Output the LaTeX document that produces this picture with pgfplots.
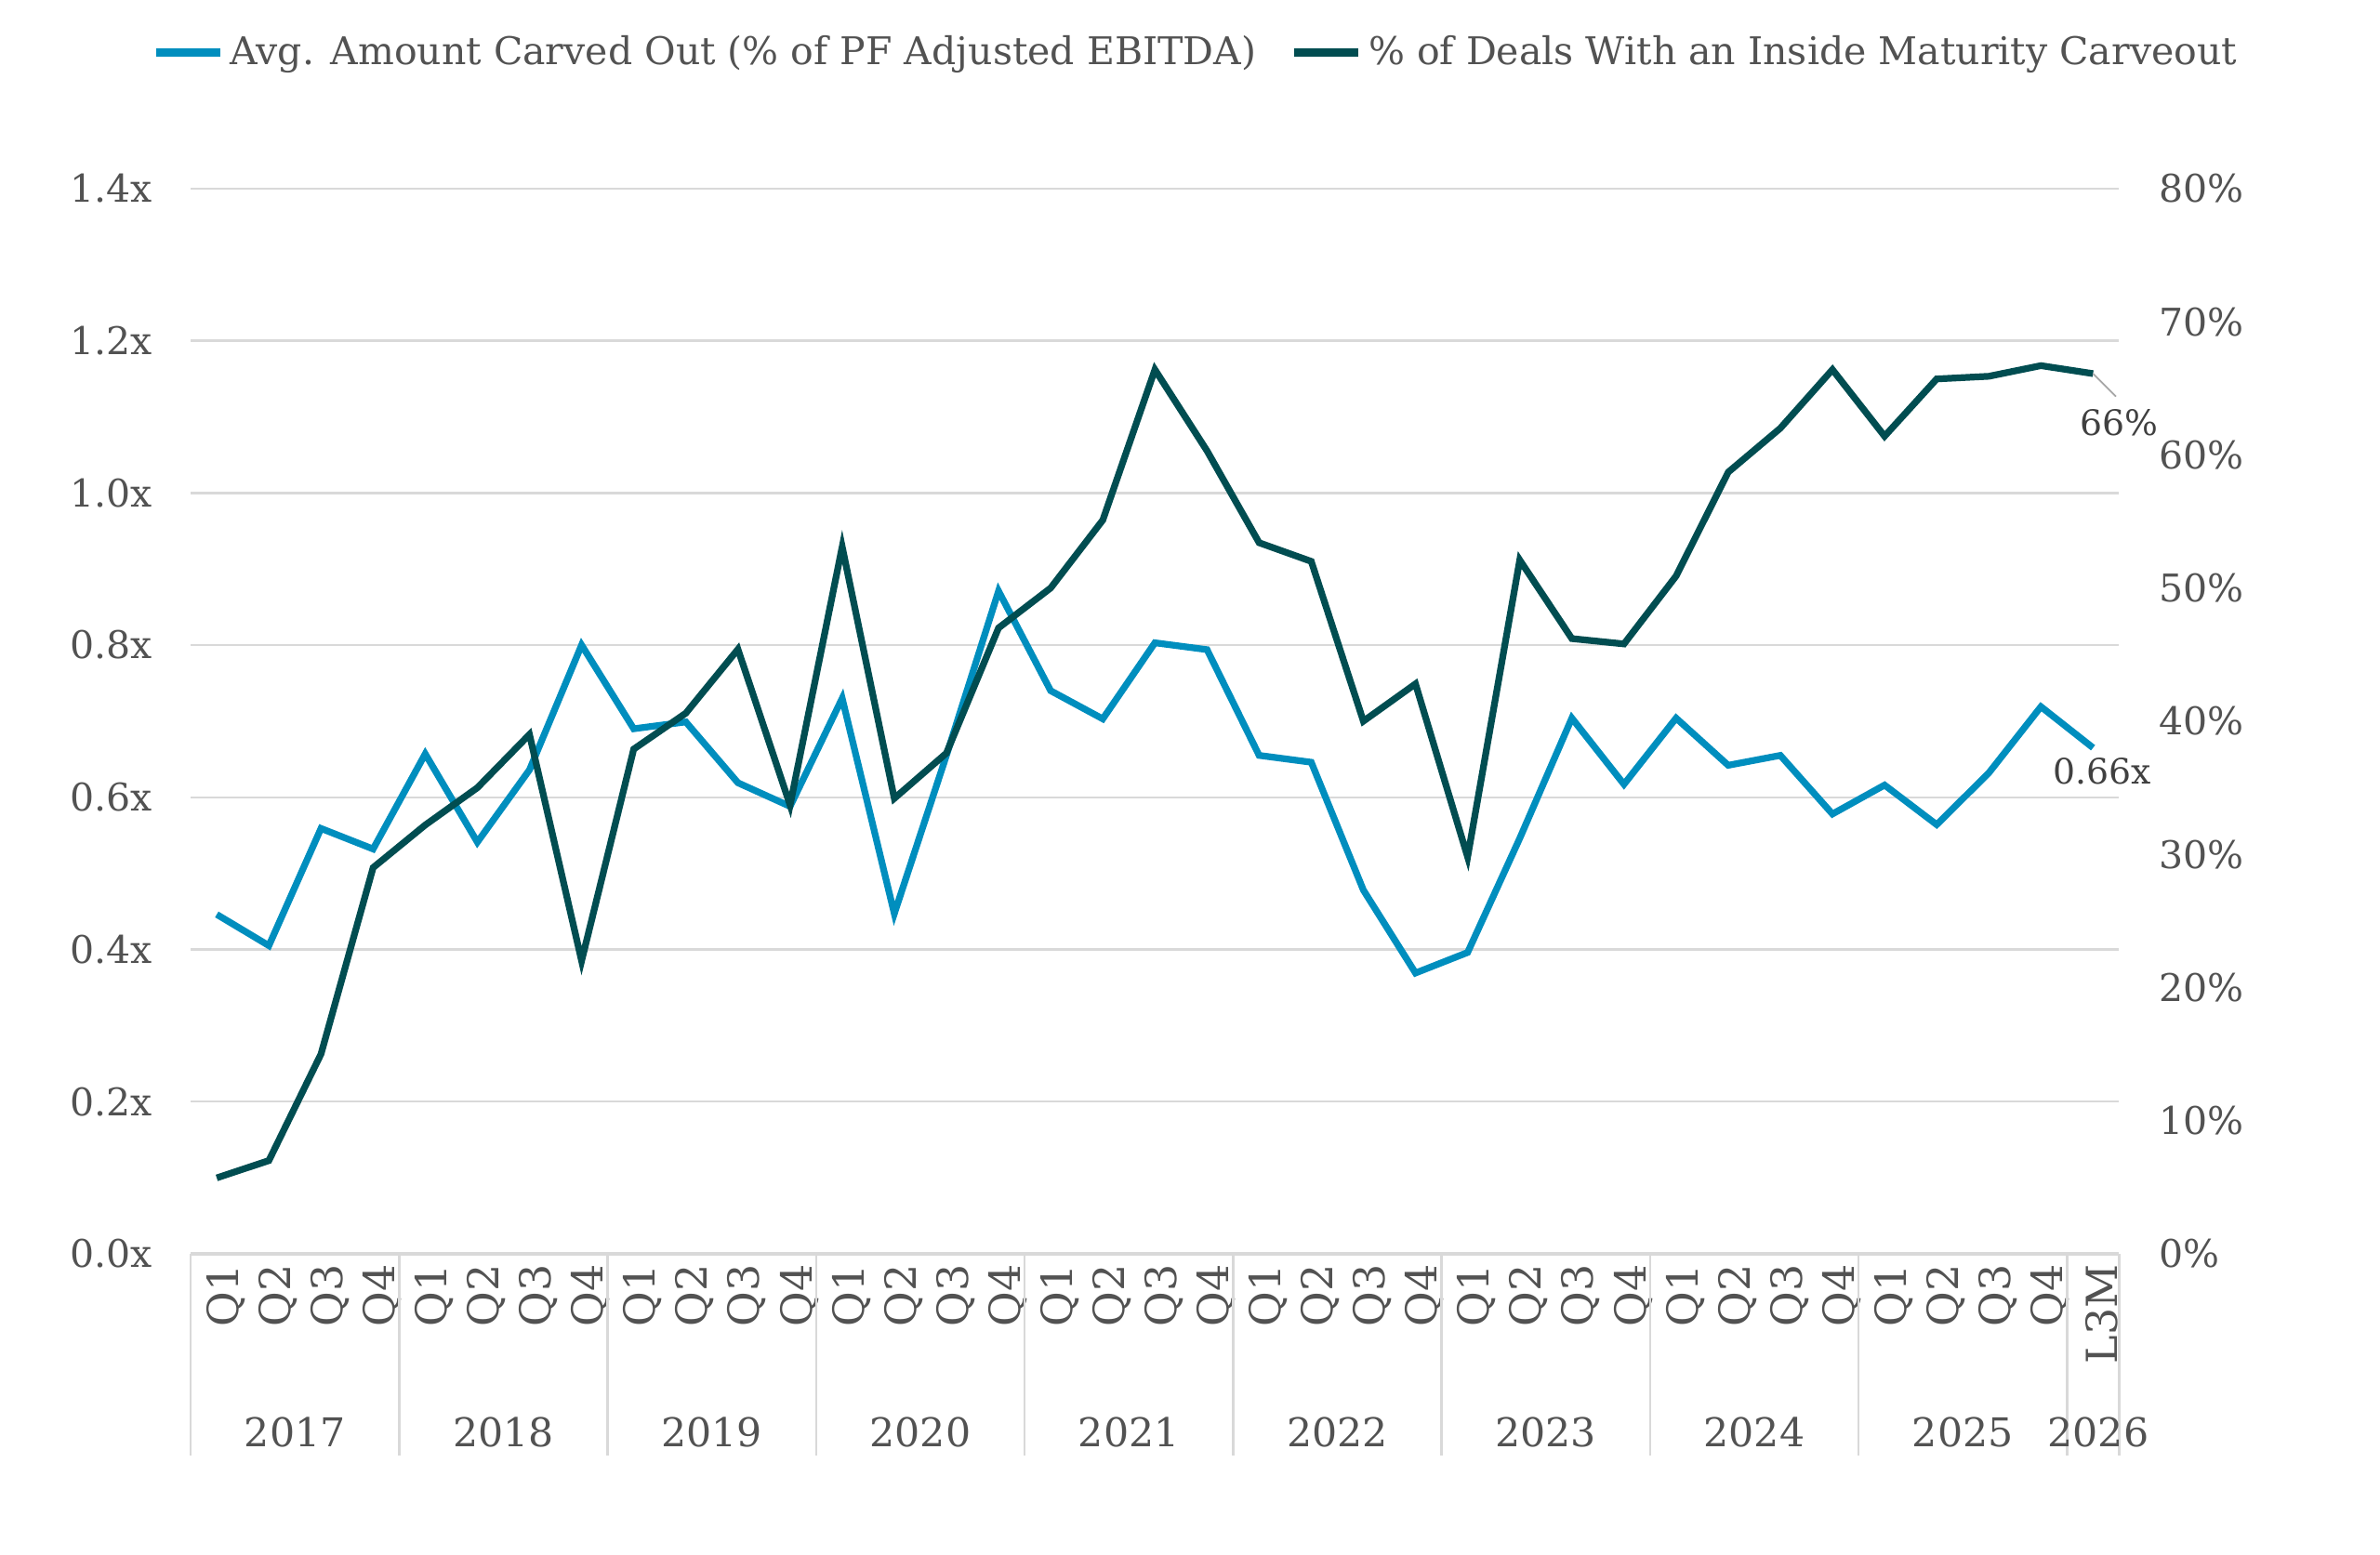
\documentclass[border=0pt]{standalone}
\usepackage{pgfplots}
\pgfplotsset{compat=1.18}
\usepackage{pgfplotstable}
\usepackage{fontspec}
\setmainfont{DejaVu Serif}

\definecolor{amtblue}{RGB}{0,142,190}
\definecolor{dealteal}{RGB}{1,77,81}
\definecolor{txt}{RGB}{82,82,82}
\definecolor{gridc}{RGB}{217,217,217}
\definecolor{lbl}{RGB}{64,64,64}

% x = quarter index (0 = 2017 Q1 ... 35 = 2025 Q4, 36 = L3M)
% amt = avg. amount carved out (x EBITDA), pct = % of deals with carveout
\pgfplotstableread{
x  amt    pct
0  0.446  5.7
1  0.405  7.0
2  0.559  15.0
3  0.532  29.0
4  0.657  32.2
5  0.541  35.0
6  0.636  39.0
7  0.800  22.0
8  0.690  37.9
9  0.699  40.6
10 0.619  45.4
11 0.588  33.7
12 0.730  53.1
13 0.447  34.2
14 0.655  37.6
15 0.871  47.0
16 0.740  50.0
17 0.703  55.1
18 0.803  66.4
19 0.794  60.3
20 0.655  53.4
21 0.646  52.0
22 0.478  40.0
23 0.369  42.8
24 0.396  29.8
25 0.546  52.1
26 0.704  46.2
27 0.617  45.8
28 0.704  50.9
29 0.642  58.7
30 0.655  62.0
31 0.578  66.4
32 0.616  61.4
33 0.564  65.7
34 0.632  65.9
35 0.719  66.7
36 0.665  66.1
}\carveout

\pgfplotsset{
  base/.style={
    at={(0pt,0pt)}, anchor=south west,
    width=632pt, height=349.2pt, scale only axis,
    xmin=-0.5, xmax=36.5,
    major tick length=0pt,
    clip=false,
    tick label style={font=\fontsize{12.5}{14}\selectfont, text=txt},
    /pgf/number format/assume math mode=true,
  },
}
\tikzset{yr/.style={text=txt, font=\fontsize{13}{15}\selectfont, yshift=-58.5pt}}

\begin{document}
\begin{tikzpicture}
\path[use as bounding box] (-62.5pt,-98.7pt) rectangle (717.5pt,411pt);

\begin{axis}[
  base,
  ymin=0, ymax=1.4,
  ytick={0,0.2,0.4,0.6,0.8,1.0,1.2,1.4},
  yticklabel={\pgfmathprintnumber[fixed,fixed zerofill,precision=1]{\tick}x},
  yticklabel style={xshift=-9pt},
  axis x line*=bottom, axis y line*=left,
  y axis line style={draw=none},
  x axis line style={draw=gridc, line width=1pt, -},
  ymajorgrids,
  major grid style={draw=gridc, line width=0.75pt},
  xtick={0,...,36},
  xticklabels={Q1,Q2,Q3,Q4,Q1,Q2,Q3,Q4,Q1,Q2,Q3,Q4,Q1,Q2,Q3,Q4,Q1,Q2,Q3,Q4,
    Q1,Q2,Q3,Q4,Q1,Q2,Q3,Q4,Q1,Q2,Q3,Q4,Q1,Q2,Q3,Q4,L3M},
  xticklabel style={rotate=90, anchor=east, yshift=-3pt,
    font=\fontsize{14}{16}\selectfont},
  extra x ticks={-0.5,3.5,7.5,11.5,15.5,19.5,23.5,27.5,31.5,35.5,36.5},
  extra x tick labels={},
  extra x tick style={major tick length=66pt, tick align=outside,
    tick style={draw=gridc, line width=0.75pt}, grid=none},
  legend style={at={(0.522,1.128)}, anchor=center, draw=none, fill=none,
    legend columns=2, font=\fontsize{12.5}{14}\selectfont, text=txt,
    /tikz/every even column/.append style={column sep=9pt}},
  legend image code/.code={\draw[#1, line width=2.8pt] (0pt,0pt) -- (21pt,0pt);},
]
\addplot[amtblue, line width=2.2pt] table[x=x, y=amt] {\carveout};
\addlegendentry{Avg. Amount Carved Out (\% of PF Adjusted EBITDA)}
\addlegendimage{dealteal, line width=2.2pt}
\addlegendentry{\% of Deals With an Inside Maturity Carveout}

\node[anchor=north, inner sep=0pt, text=lbl, font=\fontsize{11.5}{13}\selectfont]
  at (axis cs:36,0.665) [xshift=3pt, yshift=-3pt] {0.66x};

\node[yr] at (axis cs:1.5,0) {2017};
\node[yr] at (axis cs:5.5,0) {2018};
\node[yr] at (axis cs:9.5,0) {2019};
\node[yr] at (axis cs:13.5,0) {2020};
\node[yr] at (axis cs:17.5,0) {2021};
\node[yr] at (axis cs:21.5,0) {2022};
\node[yr] at (axis cs:25.5,0) {2023};
\node[yr] at (axis cs:29.5,0) {2024};
\node[yr] at (axis cs:33.5,0) {2025};
\node[yr] at (axis cs:36.1,0) {2026};
\end{axis}

\begin{axis}[
  base,
  ymin=0, ymax=80,
  ytick={0,10,20,30,40,50,60,70,80},
  yticklabel={\pgfmathprintnumber[fixed,precision=0]{\tick}\%},
  yticklabel style={xshift=9.5pt},
  axis y line*=right,
  y axis line style={draw=none},
  axis x line=none,
]
\addplot[dealteal, line width=2.2pt] table[x=x, y=pct] {\carveout};

\draw[gray!70, line width=0.5pt] (axis cs:36,66.1) -- ++(7.5pt,-7.5pt);
\node[anchor=north, inner sep=0pt, text=lbl, font=\fontsize{11.5}{13}\selectfont]
  at (axis cs:36,66.1) [xshift=8.5pt, yshift=-11.5pt] {66\%};
\end{axis}
\end{tikzpicture}
\end{document}
